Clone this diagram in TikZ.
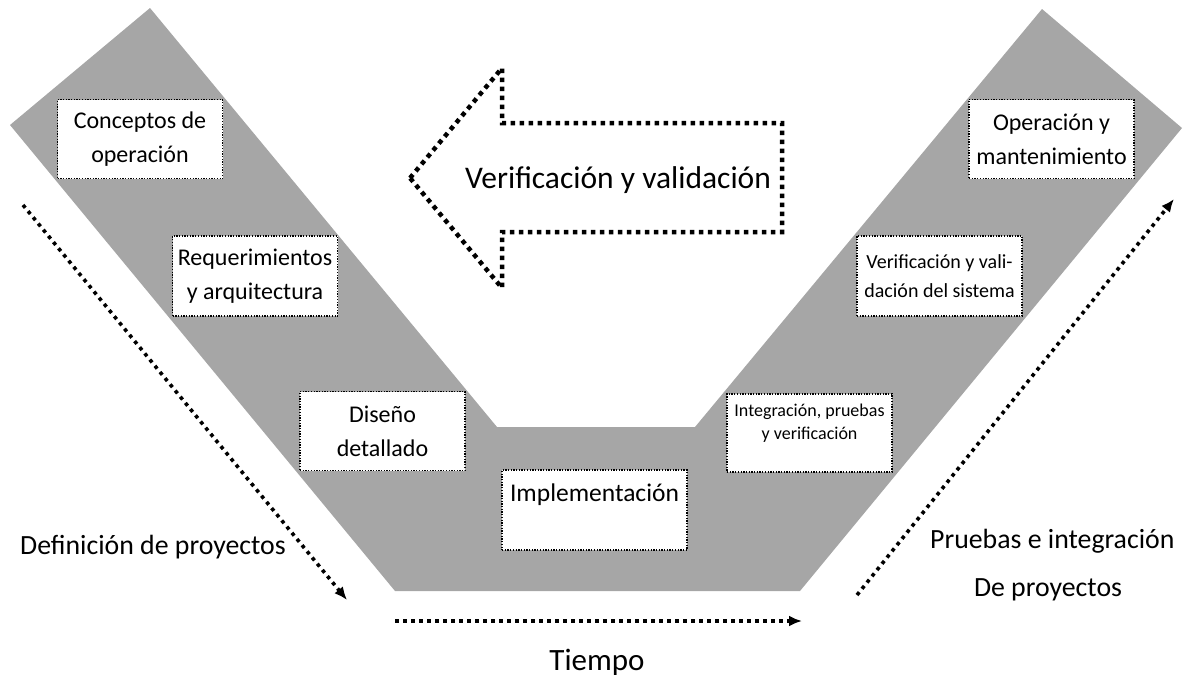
\documentclass[tikz,border=0pt]{standalone}
\usepackage{fontspec}
\setmainfont{Carlito}
\usetikzlibrary{arrows.meta}
\definecolor{vgray}{RGB}{166,166,166}
\begin{document}
\begin{tikzpicture}[x=1pt,y=-1pt,
  phase/.style={draw=black, fill=white, line width=1.3pt,
    dash pattern=on 1.3pt off 1.4pt, minimum width=165pt, minimum height=79pt,
    inner sep=0pt, align=center, font=\fontsize{24}{34}\selectfont},
  flow/.style={line width=3.6pt, dash pattern=on 3.6pt off 4.4pt,
    -{Latex[length=13pt,width=11pt]}},
  sidetext/.style={inner sep=0pt, font=\fontsize{27.8}{32}\selectfont},
  bigarrow/.style={line width=4.5pt, dash pattern=on 4.5pt off 4.5pt, line join=miter}
]
% canvas
\useasboundingbox (0,0) rectangle (1183,681);

% the V band
\fill[vgray] (10,125) -- (150,8) -- (497,427) -- (695,427) -- (1042,9)
  -- (1182,128) -- (800,591) -- (395,591) -- cycle;

% end points of the flow arrows
\coordinate (defA) at (23,205);
\coordinate (defB) at (347,600);
\coordinate (timeA) at (395,621);
\coordinate (timeB) at (802,621);
\coordinate (intA) at (857,595);
\coordinate (intB) at (1174,199);

\draw[flow] (defA) -- (defB);
\draw[flow] (timeA) -- (timeB);
\draw[flow] (intA) -- (intB);

% phases
\node[phase] (conc) at (140,139) {Conceptos de\\operación};
\node[phase, minimum height=80pt] (req) at (255,276) {Requerimientos\\y arquitectura};
\node[phase] (dis) at (382.5,431) {Diseño\\detallado};
\node[phase, minimum width=185pt, minimum height=80pt] (impl) at (594.5,510)
  {\fontsize{25.5}{34}\selectfont Implementación\\\mbox{}};
\node[phase, minimum height=78pt, font=\fontsize{18}{23}\selectfont] (integ) at (809.5,433)
  {Integración, pruebas\\y verificación\\\mbox{}};
\node[phase, minimum height=80pt, font=\fontsize{20}{29}\selectfont] (vsis) at (939.5,276)
  {Verificación y vali-\\dación del sistema};
\node[phase] (oper) at (1051.5,139) {Operación y\\mantenimiento};

% verification and validation arrow
\draw[bigarrow] (410,178) -- (502,68) -- (502,123) -- (782,123) -- (782,232)
  -- (502,232) -- (502,288) -- cycle;
\node[inner sep=0pt, font=\fontsize{31.5}{36}\selectfont] (vv) at (618,180) {Verificación y validación};

% side labels
\node[sidetext, anchor=west] (def) at (20,547) {Definición de proyectos};
\node[sidetext, anchor=west] (prue) at (930,541) {Pruebas e integración};
\node[sidetext] (deproy) at (1048,590) {De proyectos};
\node[inner sep=0pt, font=\fontsize{31}{36}\selectfont] (tiempo) at (597,662) {Tiempo};
\end{tikzpicture}
\end{document}
